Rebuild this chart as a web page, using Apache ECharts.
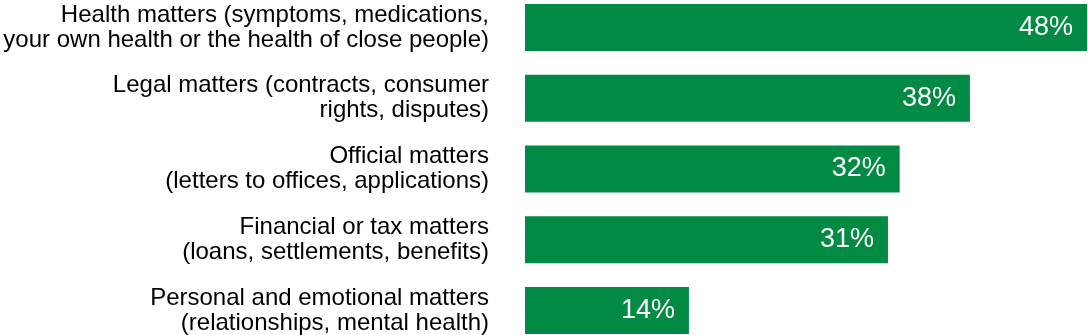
<!DOCTYPE html>
<html>
<head>
<meta charset="utf-8">
<script src="https://cdn.jsdelivr.net/npm/echarts@6/dist/echarts.min.js"></script>
<style>
  html, body { margin: 0; padding: 0; background: #fff; overflow: hidden; }
  /* the band of the chart runs a little past the picture at top and bottom */
  #chart { width: 1088px; height: 354px; margin-top: -8px; }
</style>
</head>
<body>
<div id="chart"></div>
<script>
// categories (top to bottom) and their shares in %
const categories = [
  'Health matters (symptoms, medications,\nyour own health or the health of close people)',
  'Legal matters (contracts, consumer\nrights, disputes)',
  'Official matters\n(letters to offices, applications)',
  'Financial or tax matters\n(loans, settlements, benefits)',
  'Personal and emotional matters\n(relationships, mental health)',
];
const shares = [48, 38, 32, 31, 14];

const chart = echarts.init(document.getElementById('chart'));
chart.setOption({
  animation: false,
  grid: {
    left: 525,
    width: 562,
    top: 0,
    height: 354,
    containLabel: false,
  },
  xAxis: {
    type: 'value',
    min: 0,
    max: 48,
    show: false,
  },
  yAxis: {
    type: 'category',
    inverse: true,
    data: categories,
    axisLine: { show: false },
    axisTick: { show: false },
    axisLabel: {
      margin: 36,
      align: 'right',
      color: '#000',
      fontFamily: 'Liberation Sans, Arial, sans-serif',
      fontSize: 24,
      lineHeight: 25,
    },
  },
  series: [
    {
      type: 'bar',
      data: shares,
      barWidth: 47,
      itemStyle: { color: '#008a44' },
      label: {
        show: true,
        position: 'insideRight',
        distance: 14,
        color: '#fff',
        fontFamily: 'Liberation Sans, Arial, sans-serif',
        fontSize: 27,
        formatter: '{c}%',
      },
    },
  ],
});
</script>
</body>
</html>
